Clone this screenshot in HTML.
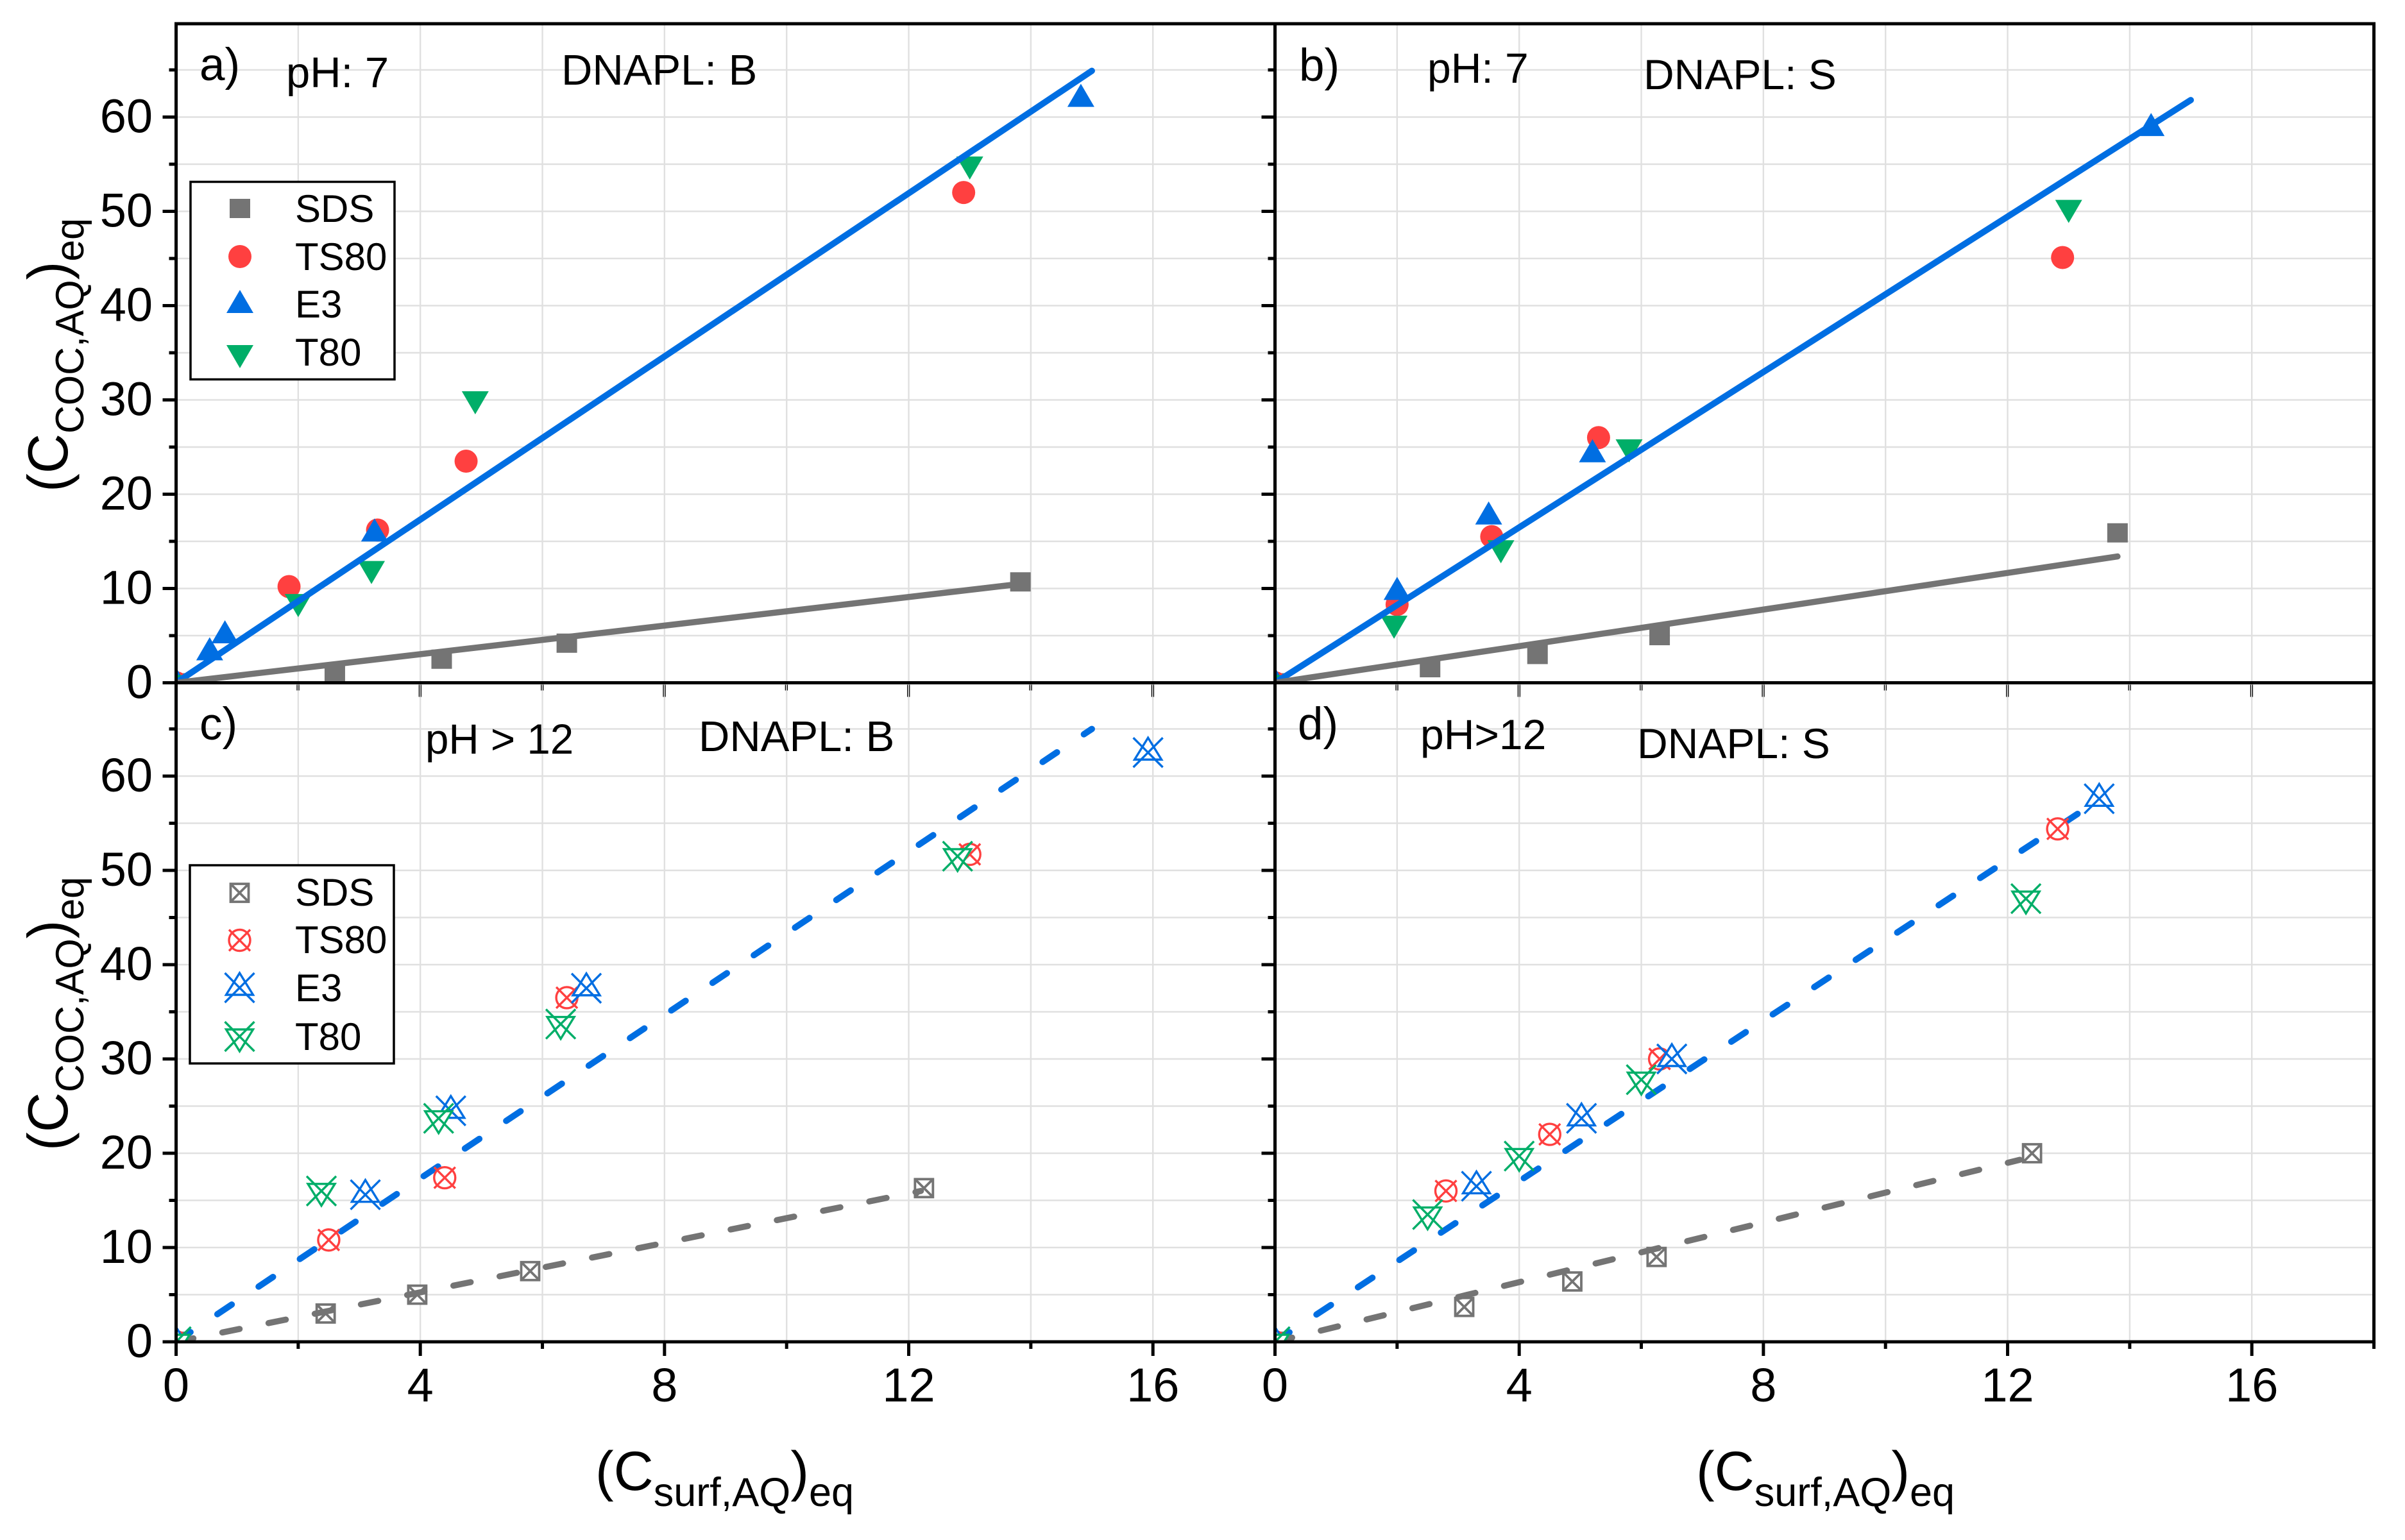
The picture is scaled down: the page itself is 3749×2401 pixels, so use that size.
<!DOCTYPE html>
<html lang="en">
<head>
<meta charset="utf-8">
<title>Surfactant partitioning chart</title>
<style>
html,body{margin:0;padding:0;background:#fff;}
svg{display:block;position:absolute;left:0;top:0;}
text{font-family:"Liberation Sans",Arial,sans-serif;fill:#000;}
</style>
</head>
<body>
<svg id="chart" xmlns="http://www.w3.org/2000/svg" width="3749" height="2401" viewBox="0 0 3749 2401">
  <rect x="0" y="0" width="3749" height="2401" fill="#ffffff"/>
  <defs>
    <clipPath id="clip-a"><rect x="274.5" y="37" width="1713" height="1027.5"/></clipPath>
    <clipPath id="clip-b"><rect x="1987.5" y="37" width="1713.5" height="1027.5"/></clipPath>
    <clipPath id="clip-c"><rect x="274.5" y="1064.5" width="1713" height="1027.5"/></clipPath>
    <clipPath id="clip-d"><rect x="1987.5" y="1064.5" width="1713.5" height="1027.5"/></clipPath>
  </defs>
  <g id="grid-layer"></g>
  <g id="series-layer"></g>
  <g id="axis-layer"></g>

  <g id="legend-upper">
    <rect x="297" y="283.5" width="318" height="308" fill="#fff" stroke="#000" stroke-width="3.5"/>
    <text x="460" y="346" font-size="60">SDS</text>
    <text x="460" y="421" font-size="60">TS80</text>
    <text x="460" y="495" font-size="60">E3</text>
    <text x="460" y="570" font-size="60">T80</text>
  </g>
  <g id="legend-lower">
    <rect x="296" y="1349" width="318" height="309" fill="#fff" stroke="#000" stroke-width="3.5"/>
    <text x="460" y="1412" font-size="60">SDS</text>
    <text x="460" y="1486" font-size="60">TS80</text>
    <text x="460" y="1561" font-size="60">E3</text>
    <text x="460" y="1637" font-size="60">T80</text>
  </g>

  <text x="311" y="125" font-size="71">a)</text>
  <text x="446" y="136" font-size="67">pH: 7</text>
  <text x="875" y="132" font-size="67">DNAPL: B</text>
  <text x="2025" y="126" font-size="71">b)</text>
  <text x="2225" y="129" font-size="66">pH: 7</text>
  <text x="2562" y="139" font-size="66">DNAPL: S</text>
  <text x="311" y="1153" font-size="71">c)</text>
  <text x="663" y="1175" font-size="65.5">pH &gt; 12</text>
  <text x="1089" y="1171" font-size="67">DNAPL: B</text>
  <text x="2023" y="1153" font-size="71">d)</text>
  <text x="2214" y="1168" font-size="66">pH&gt;12</text>
  <text x="2552" y="1182" font-size="66">DNAPL: S</text>

  <text transform="translate(105,767) rotate(-90) scale(.98,1)" font-size="88">(C<tspan font-size="62" dy="25">COC,AQ</tspan><tspan dy="-25">)</tspan><tspan font-size="62" dy="25">eq</tspan></text>
  <text transform="translate(105,1794) rotate(-90) scale(.98,1)" font-size="88">(C<tspan font-size="62" dy="25">COC,AQ</tspan><tspan dy="-25">)</tspan><tspan font-size="62" dy="25">eq</tspan></text>
  <text x="928" y="2323" font-size="86">(C<tspan font-size="63" dy="25">surf,AQ</tspan><tspan dy="-25">)</tspan><tspan font-size="63" dy="25">eq</tspan></text>
  <text x="2644" y="2323" font-size="86">(C<tspan font-size="63" dy="25">surf,AQ</tspan><tspan dy="-25">)</tspan><tspan font-size="63" dy="25">eq</tspan></text>
</svg>
<script>
// ---- tick labels ----
const xTickLabels = [0, 4, 8, 12, 16];
const yTickLabels = [0, 10, 20, 30, 40, 50, 60];
const xGridValues = [2, 4, 6, 8, 10, 12, 14, 16];
const xMinorTicks = [2, 6, 10, 14, 18];
const yGridValues = [5, 10, 15, 20, 25, 30, 35, 40, 45, 50, 55, 60, 65];
const yMinorTicks = [5, 15, 25, 35, 45, 55, 65];

// ---- panel a (pH 7, DNAPL B) ----
const aSdsX = [0, 2.6, 4.35, 6.4, 13.83];
const aSdsY = [0, 1, 2.5, 4.2, 10.7];
const aTs80X = [0, 1.85, 3.3, 4.75, 12.9];
const aTs80Y = [0, 10.2, 16.2, 23.5, 52];
const aE3X = [0, 0.55, 0.8, 3.25, 14.82];
const aE3Y = [0, 3.2, 5, 15.8, 61.9];
const aT80X = [0, 2.0, 3.2, 4.9, 13.0];
const aT80Y = [0, 8.6, 12.1, 30.1, 55];
const aBlueFitX = [0, 15.0];
const aBlueFitY = [0, 64.9];
const aGrayFitX = [0, 13.85];
const aGrayFitY = [0, 10.5];

// ---- panel b (pH 7, DNAPL S) ----
const bSdsX = [0, 2.54, 4.3, 6.3, 13.8];
const bSdsY = [0, 1.6, 3, 5, 15.9];
const bTs80X = [0, 2, 3.55, 5.3, 12.9];
const bTs80Y = [0, 8.3, 15.5, 26, 45.1];
const bE3X = [0, 2, 3.5, 5.2, 14.35];
const bE3Y = [0, 9.6, 17.6, 24.2, 58.8];
const bT80X = [0, 1.95, 3.7, 5.8, 13];
const bT80Y = [0, 6.3, 14.3, 25, 50.4];
const bBlueFitX = [0, 15];
const bBlueFitY = [0, 61.8];
const bGrayFitX = [0, 13.8];
const bGrayFitY = [0, 13.4];

// ---- panel c (pH > 12, DNAPL B) ----
const cSdsX = [0, 2.45, 3.95, 5.8, 12.25];
const cSdsY = [0, 3, 5, 7.5, 16.3];
const cTs80X = [0, 2.5, 4.4, 6.4, 13];
const cTs80Y = [0, 10.8, 17.4, 36.5, 51.7];
const cE3X = [0, 3.1, 4.5, 6.72, 15.92];
const cE3Y = [0, 15.6, 24.5, 37.5, 62.5];
const cT80X = [0, 2.38, 4.3, 6.3, 12.8];
const cT80Y = [0, 16, 23.7, 33.7, 51.5];
const cBlueFitX = [0, 15];
const cBlueFitY = [0, 65];
const cGrayFitX = [0, 12.2];
const cGrayFitY = [0, 16];

// ---- panel d (pH > 12, DNAPL S) ----
const dSdsX = [0, 3.1, 4.87, 6.25, 12.4];
const dSdsY = [0, 3.7, 6.4, 9, 20];
const dTs80X = [0, 2.8, 4.5, 6.3, 12.82];
const dTs80Y = [0, 16, 22, 30, 54.4];
const dE3X = [0, 3.3, 5.02, 6.5, 13.5];
const dE3Y = [0, 16.5, 23.7, 30, 57.6];
const dT80X = [0, 2.5, 4, 6, 12.3];
const dT80Y = [0, 13.5, 19.7, 27.8, 47];
const dBlueFitX = [0, 13.5];
const dBlueFitY = [0, 57.5];
const dGrayFitX = [0, 12.2];
const dGrayFitY = [0, 19.3];

const NS = 'http://www.w3.org/2000/svg';
const COLORS = {sds: '#747474', ts80: '#ff4040', e3: '#006ee2', t80: '#00ae68'};
const GRID_COLOR = '#e0e0e0';

function xAxisScale(col, v) { return (col === 0 ? 274.5 : 1987.5) + v * 95.17; }
function yAxisScale(row, v) { return (row === 0 ? 1064.5 : 2092) - v * 14.7; }

function make(tag, parent, attrs) {
  const el = document.createElementNS(NS, tag);
  for (const k in attrs) el.setAttribute(k, attrs[k]);
  parent.appendChild(el);
  return el;
}

function drawFilledMarker(parent, kind, cx, cy, name) {
  let el;
  if (kind === 'sds') {
    el = make('rect', parent, {x: cx - 16, y: cy - 15, width: 32, height: 30, fill: COLORS.sds});
  } else if (kind === 'ts80') {
    el = make('circle', parent, {cx: cx, cy: cy, r: 18, fill: COLORS.ts80});
  } else if (kind === 'e3') {
    el = make('polygon', parent, {points: (cx - 21) + ',' + (cy + 12) + ' ' + (cx + 21) + ',' + (cy + 12) + ' ' + cx + ',' + (cy - 24), fill: COLORS.e3});
  } else {
    el = make('polygon', parent, {points: (cx - 21) + ',' + (cy - 12) + ' ' + (cx + 21) + ',' + (cy - 12) + ' ' + cx + ',' + (cy + 24), fill: COLORS.t80});
  }
  
  
}

function drawOpenMarker(parent, kind, cx, cy, name) {
  const g = make('g', parent, {fill: '#ffffff', stroke: COLORS[kind], 'stroke-width': kind === 'sds' ? 3.8 : 3.4});
  
  
  let h;
  if (kind === 'sds') {
    make('rect', g, {x: cx - 14, y: cy - 14, width: 28, height: 28});
    h = 14;
  } else if (kind === 'ts80') {
    make('circle', g, {cx: cx, cy: cy, r: 16.5});
    h = 16.5;
  } else if (kind === 'e3') {
    make('polygon', g, {points: (cx - 21) + ',' + (cy + 11) + ' ' + (cx + 21) + ',' + (cy + 11) + ' ' + cx + ',' + (cy - 23)});
    h = 23;
  } else {
    make('polygon', g, {points: (cx - 21) + ',' + (cy - 11) + ' ' + (cx + 21) + ',' + (cy - 11) + ' ' + cx + ',' + (cy + 23)});
    h = 23;
  }
  make('line', g, {x1: cx - h, y1: cy - h, x2: cx + h, y2: cy + h});
  make('line', g, {x1: cx - h, y1: cy + h, x2: cx + h, y2: cy - h});
}

const panels = [
  {id: 'a', col: 0, row: 0, series: {sds: [aSdsX, aSdsY], ts80: [aTs80X, aTs80Y], e3: [aE3X, aE3Y], t80: [aT80X, aT80Y]}, blue: [aBlueFitX, aBlueFitY], gray: [aGrayFitX, aGrayFitY]},
  {id: 'b', col: 1, row: 0, series: {sds: [bSdsX, bSdsY], ts80: [bTs80X, bTs80Y], e3: [bE3X, bE3Y], t80: [bT80X, bT80Y]}, blue: [bBlueFitX, bBlueFitY], gray: [bGrayFitX, bGrayFitY]},
  {id: 'c', col: 0, row: 1, series: {sds: [cSdsX, cSdsY], ts80: [cTs80X, cTs80Y], e3: [cE3X, cE3Y], t80: [cT80X, cT80Y]}, blue: [cBlueFitX, cBlueFitY], gray: [cGrayFitX, cGrayFitY]},
  {id: 'd', col: 1, row: 1, series: {sds: [dSdsX, dSdsY], ts80: [dTs80X, dTs80Y], e3: [dE3X, dE3Y], t80: [dT80X, dT80Y]}, blue: [dBlueFitX, dBlueFitY], gray: [dGrayFitX, dGrayFitY]}
];

const gridLayer = document.getElementById('grid-layer');
const seriesLayer = document.getElementById('series-layer');
const axisLayer = document.getElementById('axis-layer');

function drawFit(parent, p, pair, color, width, name) {
  const line = make('line', parent, {
    x1: xAxisScale(p.col, pair[0][0]), y1: yAxisScale(p.row, pair[1][0]),
    x2: xAxisScale(p.col, pair[0][1]), y2: yAxisScale(p.row, pair[1][1]),
    stroke: color, 'stroke-width': width, 'stroke-linecap': 'round'
  });
  if (p.row === 1) {
    line.setAttribute('stroke-dasharray', color === COLORS.e3 ? '27 50.4' : '27.5 46');
  }
  
  
}

panels.forEach(function (p) {
  const left = xAxisScale(p.col, 0);
  const right = xAxisScale(p.col, 18);
  const bottom = yAxisScale(p.row, 0);
  const top = p.row === 0 ? 37 : 1064.5;

  xGridValues.forEach(function (v) {
    const gl = make('line', gridLayer, {x1: xAxisScale(p.col, v), x2: xAxisScale(p.col, v), y1: top, y2: bottom, stroke: GRID_COLOR, 'stroke-width': 2.4});
    
    
  });
  yGridValues.forEach(function (v) {
    const gl = make('line', gridLayer, {x1: left, x2: right, y1: yAxisScale(p.row, v), y2: yAxisScale(p.row, v), stroke: GRID_COLOR, 'stroke-width': 2.6});
    
    
  });

  const plot = make('g', seriesLayer, {'clip-path': 'url(#clip-' + p.id + ')'});
  
  

  function drawMarkers(kinds) {
    kinds.forEach(function (k) {
      const xs = p.series[k][0];
      const ys = p.series[k][1];
      for (let i = 0; i < xs.length; i++) {
        const cx = xAxisScale(p.col, xs[i]);
        const cy = yAxisScale(p.row, ys[i]);
        const name = 'panel-' + p.id + '-' + k + '-point';
        if (p.row === 0) drawFilledMarker(plot, k, cx, cy, name);
        else drawOpenMarker(plot, k, cx, cy, name);
      }
    });
  }
  function drawFits() {
    drawFit(plot, p, p.blue, COLORS.e3, 9.8, 'panel-' + p.id + '-nonionic-fit-line');
    drawFit(plot, p, p.gray, COLORS.sds, 9.5, 'panel-' + p.id + '-sds-fit-line');
  }
  if (p.row === 0) {
    drawMarkers(['sds', 'ts80', 'e3', 't80']);
    drawFits();
  } else {
    drawMarkers(['sds']);
    drawFits();
    drawMarkers(['ts80', 'e3', 't80']);
  }

  // y ticks
  yTickLabels.forEach(function (v) {
    const t = make('line', axisLayer, {x1: left - 21, x2: left, y1: yAxisScale(p.row, v), y2: yAxisScale(p.row, v), stroke: '#000', 'stroke-width': 5});
    
    
    if (p.col === 0) {
      const lab = make('text', axisLayer, {x: 238, y: yAxisScale(p.row, v) + 24, 'font-size': 74, 'text-anchor': 'end'});
      lab.textContent = String(v);
      
      
    }
  });
  yMinorTicks.forEach(function (v) {
    const t = make('line', axisLayer, {x1: left - 11, x2: left, y1: yAxisScale(p.row, v), y2: yAxisScale(p.row, v), stroke: '#000', 'stroke-width': 5});
    
    
  });

  // x ticks
  xTickLabels.forEach(function (v) {
    const xp = xAxisScale(p.col, v);
    if (p.row === 1) {
      const t = make('line', axisLayer, {x1: xp, x2: xp, y1: bottom, y2: bottom + 22, stroke: '#000', 'stroke-width': 5});
      
      
      const lab = make('text', axisLayer, {x: xp, y: 2185, 'font-size': 74, 'text-anchor': 'middle'});
      lab.textContent = String(v);
      
      
    } else {
      const t = make('path', axisLayer, {d: 'M' + (xp - 1.8) + ' ' + (bottom + 3) + 'V' + (bottom + 22) + 'M' + (xp + 1.2) + ' ' + (bottom + 3) + 'V' + (bottom + 22), stroke: '#000', 'stroke-width': 1.3, fill: 'none'});
      
      
    }
  });
  xMinorTicks.forEach(function (v) {
    const xp = xAxisScale(p.col, v);
    if (p.row === 1) {
      const t = make('line', axisLayer, {x1: xp, x2: xp, y1: bottom, y2: bottom + 11, stroke: '#000', 'stroke-width': 5});
      
      
    } else {
      const t = make('path', axisLayer, {d: 'M' + (xp - 1.8) + ' ' + (bottom + 3) + 'V' + (bottom + 12) + 'M' + (xp + 1.2) + ' ' + (bottom + 3) + 'V' + (bottom + 12), stroke: '#000', 'stroke-width': 1.3, fill: 'none'});
      
      
    }
  });

  const frame = make('rect', axisLayer, {x: left, y: top, width: right - left, height: bottom - top, fill: 'none', stroke: '#000', 'stroke-width': 5});
  
  
});

// move legends above the series
const svgRoot = document.getElementById('chart');
const legendUpper = document.getElementById('legend-upper');
const legendLower = document.getElementById('legend-lower');
svgRoot.insertBefore(legendUpper, axisLayer.nextSibling);
svgRoot.insertBefore(legendLower, legendUpper.nextSibling);

drawFilledMarker(legendUpper, 'sds', 374, 325, 'legend-upper-sds-marker');
drawFilledMarker(legendUpper, 'ts80', 374, 400, 'legend-upper-ts80-marker');
drawFilledMarker(legendUpper, 'e3', 374, 476, 'legend-upper-e3-marker');
drawFilledMarker(legendUpper, 't80', 374, 550, 'legend-upper-t80-marker');
drawOpenMarker(legendLower, 'sds', 373.5, 1392, 'legend-lower-sds-marker');
drawOpenMarker(legendLower, 'ts80', 373.5, 1466, 'legend-lower-ts80-marker');
drawOpenMarker(legendLower, 'e3', 373.5, 1540, 'legend-lower-e3-marker');
drawOpenMarker(legendLower, 't80', 373.5, 1616, 'legend-lower-t80-marker');
</script>
</body>
</html>
